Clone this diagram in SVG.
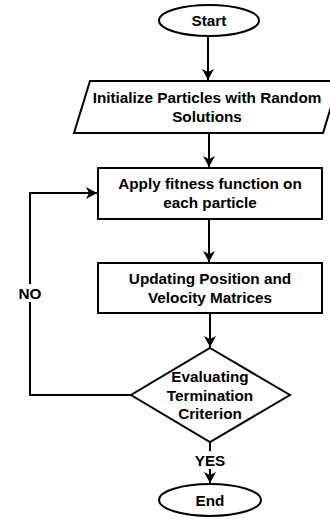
<svg xmlns="http://www.w3.org/2000/svg" width="330" height="519" viewBox="0 0 330 519">
  <style>
    .shape { fill: #ffffff; stroke: #000000; stroke-width: 2; }
    .edge { fill: none; stroke: #000000; stroke-width: 2; }
    text { font-family: "Liberation Sans", Arial, sans-serif; font-weight: bold; font-size: 15.3px; fill: #000000; text-anchor: middle; }
    .lbl-bg { fill: #ffffff; stroke: none; }
  </style>
  <defs>
    <marker id="arrow" markerUnits="userSpaceOnUse" markerWidth="13" markerHeight="13" refX="11" refY="6" orient="auto">
      <path d="M0,0 L11,6 L0,12 L3,6 Z" fill="#000000"/>
    </marker>
  </defs>

  <rect width="330" height="519" fill="#ffffff"/>

  <!-- connectors -->
  <g id="connectors">
    <line class="edge" x1="208" y1="36" x2="208" y2="80" marker-end="url(#arrow)"/>
    <line class="edge" x1="209" y1="133" x2="209" y2="167" marker-end="url(#arrow)"/>
    <line class="edge" x1="209" y1="219" x2="209" y2="262" marker-end="url(#arrow)"/>
    <line class="edge" x1="210" y1="313" x2="210" y2="347" marker-end="url(#arrow)"/>
    <line class="edge" x1="210" y1="442" x2="210" y2="483" marker-end="url(#arrow)"/>
    <polyline class="edge" points="131,395 30,395 30,193 97,193" marker-end="url(#arrow)"/>
    <!-- edge labels -->
    <rect class="lbl-bg" x="17" y="284" width="26" height="18"/>
    <text x="30" y="298.5">NO</text>
    <rect class="lbl-bg" x="194" y="451" width="32" height="18"/>
    <text x="210" y="465.5">YES</text>
  </g>

  <g id="start">
    <ellipse class="shape" cx="209" cy="20.5" rx="50" ry="15.5"/>
    <text x="209" y="26">Start</text>
  </g>

  <g id="init">
    <polygon class="shape" points="90,81 339,81 323,133 74,133"/>
    <text x="207" y="102.5">Initialize Particles with Random</text>
    <text x="207" y="121.5">Solutions</text>
  </g>

  <g id="fitness">
    <rect class="shape" x="98" y="168" width="224" height="51"/>
    <text x="210" y="188.5">Apply fitness function on</text>
    <text x="210" y="207.5">each particle</text>
  </g>

  <g id="update">
    <rect class="shape" x="98" y="263" width="224" height="50"/>
    <text x="210" y="283.5">Updating Position and</text>
    <text x="210" y="302.5">Velocity Matrices</text>
  </g>

  <g id="check">
    <polygon class="shape" points="210,348 290,395 210,442 131,395"/>
    <text x="210" y="382">Evaluating</text>
    <text x="210" y="400.5">Termination</text>
    <text x="210" y="418.5">Criterion</text>
  </g>

  <g id="end">
    <ellipse class="shape" cx="210" cy="500" rx="51" ry="16"/>
    <text x="210" y="505.5">End</text>
  </g>
</svg>
